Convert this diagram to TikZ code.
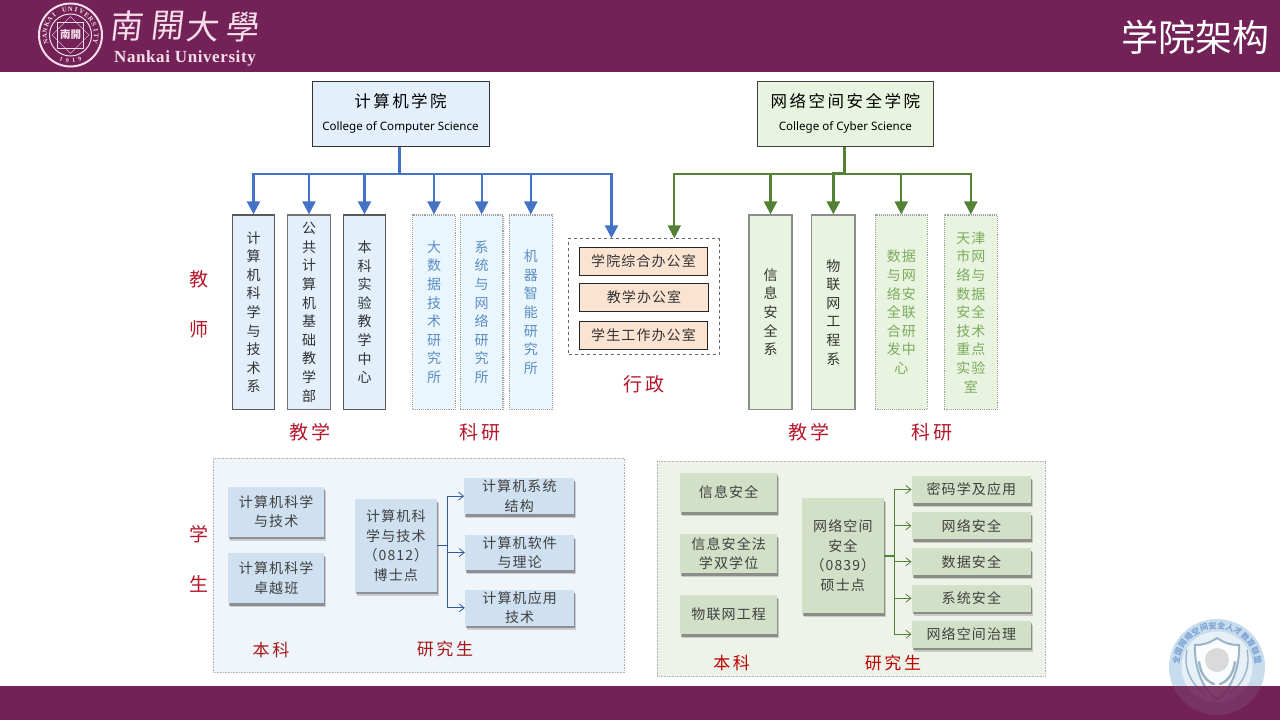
\documentclass[tikz,border=0pt]{standalone}
\usepackage{fontspec}
\setmainfont[LetterSpace=8]{Noto Sans CJK SC}
\newfontfamily\wide[LetterSpace=15]{Noto Sans CJK SC}
\newfontfamily\plaincjk{Noto Sans CJK SC}
\newfontfamily\latinsub{Noto Sans}
\newfontfamily\latinlogo[LetterSpace=3.5]{Liberation Serif}
\newfontfamily\latinseal{Liberation Serif}
\usetikzlibrary{arrows.meta,shadows}
\definecolor{band}{HTML}{722257}
\definecolor{logopink}{HTML}{F6DDE9}
\definecolor{cblue}{HTML}{4472C4}
\definecolor{cgreen}{HTML}{548235}
\definecolor{lblue}{HTML}{E3F0FC}
\definecolor{lblue2}{HTML}{EAF6FD}
\definecolor{lgreen}{HTML}{E8F4DF}
\definecolor{peach}{HTML}{FBE3D2}
\definecolor{redlab}{HTML}{B5162B}
\definecolor{emblem}{HTML}{9CC2DE}
\definecolor{softblue}{HTML}{CFE0F0}
\definecolor{softgreen}{HTML}{D3E0C8}
\definecolor{panelblue}{HTML}{F0F5FC}
\definecolor{panelgreen}{HTML}{EEF3EA}
\definecolor{restext}{HTML}{5B8EC4}
\definecolor{resgreen}{HTML}{7CAB5E}
\tikzset{
  headbox/.style={draw=#1,line width=1pt,inner sep=0pt,align=center},
  teachbox/.style={draw=#1,line width=1.3pt,inner sep=0pt,align=center,
    font=\fontsize{14}{18.6}\selectfont,text=black!80},
  resbox/.style={draw=gray!75,densely dotted,line width=1.1pt,inner sep=0pt,align=center,
    font=\fontsize{14}{18.6}\selectfont},
  officebox/.style={draw=black!85,fill=peach,line width=1pt,inner sep=0pt,align=center,
    font=\fontsize{14}{17}\selectfont,text=black!80},
  panelbox/.style={draw=gray!60,densely dotted,line width=.6pt,inner sep=0pt},
  softbox/.style={fill=#1,inner sep=0pt,align=center,text=black!75,
    font=\fontsize{14}{19.5}\selectfont,
    drop shadow={shadow xshift=2pt,shadow yshift=-4pt,opacity=.16,fill=black},
    drop shadow={shadow xshift=1pt,shadow yshift=-2.5pt,opacity=.3,fill=black}},
  redtitle/.style={inner sep=0pt,text=redlab,font=\wide\fontsize{19}{19}\selectfont},
  redsub/.style={inner sep=0pt,text=#1,font=\wide\fontsize{17}{17}\selectfont},
  bluearrow/.style={draw=cblue,line width=2.2pt,-{Triangle[length=13pt,width=13pt]}},
  greenarrow/.style={draw=cgreen,line width=2.2pt,-{Triangle[length=13pt,width=13pt]}},
  thinarrow/.style={line width=.8pt,-{Straight Barb[length=5pt,width=8pt]}},
}
\newcommand{\mybox}[7]{%
  \pgfmathsetmacro\bxc{(#3+#5)/2}\pgfmathsetmacro\byc{(#4+#6)/2}%
  \pgfmathsetmacro\bxw{#5-#3}\pgfmathsetmacro\byh{#6-#4}%
  \node[#2,minimum width=\bxw pt,minimum height=\byh pt] (#1) at (\bxc,\byc) {#7};}
\newcommand{\heading}[2]{{\wide\fontsize{16.5}{22}\selectfont #1}\\[11pt]{\latinsub\fontsize{11.6}{14}\selectfont #2}}
\begin{document}
\begin{tikzpicture}[x=1pt,y=-1pt]
\useasboundingbox (0,0) rectangle (1280,720);
\fill[white] (0,0) rectangle (1280,720);
\fill[band] (0,0) rectangle (1280,72);
\fill[band] (0,686) rectangle (1280,720);
% seal
\draw[logopink,line width=2pt] (70.5,35) circle[radius=31.5pt];
\draw[logopink,line width=1pt] (70.5,35) circle[radius=21pt];
\draw[logopink,line width=.5pt,shift={(70.5,35)}] (-13,-13) rectangle (13,13);
\draw[logopink,line width=.5pt,shift={(70.5,35)},rotate=45] (-13,-13) rectangle (13,13);
\foreach \c [count=\i, evaluate=\i as \a using 196-13.2*(\i-1)] in {N,A,N,K,A,I,{},U,N,I,V,E,R,S,I,T,Y}
  \node[inner sep=0pt,text=logopink,rotate=\a-90,font=\latinseal\bfseries\fontsize{6.8}{7}\selectfont] (sealc\i) at ({70.5+25.8*cos(\a)},{35-25.8*sin(\a)}) {\c};
\foreach \c [count=\i, evaluate=\i as \a using 249+14*(\i-1)] in {1,9,1,9}
  \node[inner sep=0pt,text=logopink,rotate=\a+90,font=\latinseal\bfseries\fontsize{6}{6}\selectfont] (sealy\i) at ({70.5+25.8*cos(\a)},{35-25.8*sin(\a)}) {\c};
\node[inner sep=0pt,text=logopink,font=\plaincjk\bfseries\fontsize{10.5}{10.5}\selectfont] (sealname) at (70.5,35) {南開};
% logotype
\foreach \c/\x/\y/\n in {南/128/26/la,開/168/26/lb,大/204/27/lc,學/243/27/ld}
  \node[inner sep=0pt,text=logopink,font=\plaincjk\fontsize{33}{33}\selectfont,xslant=.12,transform shape] (\n) at (\x,\y) {\c};
\node[inner sep=0pt,text=logopink,font=\latinlogo\bfseries\fontsize{17}{17}\selectfont] (lat) at (185,58) {Nankai University};
\node[inner sep=0pt,anchor=east,text=white,font=\plaincjk\fontsize{37}{37}\selectfont] (pagetitle) at (1270,37) {学院架构};
% side labels
\node[redtitle] (t1) at (199,279) {教};
\node[redtitle] (t2) at (199,329) {师};
\node[redtitle] (s1) at (199,534) {学};
\node[redtitle] (s2) at (199,584) {生};
% heads
\mybox{cs}{headbox=black!80,fill=lblue}{312}{81}{489}{146}{\heading{计算机学院}{College of Computer Science}}
\mybox{cy}{headbox=black!75,fill=lgreen}{757}{81}{933.7}{146}{\heading{网络空间安全学院}{College of Cyber Science}}
% blue columns
\mybox{b1}{teachbox=black!65,fill=lblue}{232.3}{215}{274.7}{409.3}{计\\算\\机\\科\\学\\与\\技\\术\\系}
\mybox{b2}{teachbox=black!55,fill=lblue}{287.7}{215}{330.3}{409.3}{公\\共\\计\\算\\机\\基\\础\\教\\学\\部}
\mybox{b3}{teachbox=black!65,fill=lblue}{343.3}{215}{385.7}{409.3}{本\\科\\实\\验\\教\\学\\中\\心}
\mybox{b4}{resbox,fill=lblue2,text=restext}{412.7}{215}{455.3}{409.3}{大\\数\\据\\技\\术\\研\\究\\所}
\mybox{b5}{resbox,fill=lblue2,text=restext}{460.3}{215}{503}{409.3}{系\\统\\与\\网\\络\\研\\究\\所}
\mybox{b6}{resbox,fill=lblue2,text=restext}{509.3}{215}{552.3}{409.3}{机\\器\\智\\能\\研\\究\\所}
% green columns
\mybox{g1}{teachbox=gray!90,fill=lgreen}{749}{215}{792}{409.3}{信\\息\\安\\全\\系}
\mybox{g2}{teachbox=gray!90,fill=lgreen}{811.7}{215}{855}{409.3}{物\\联\\网\\工\\程\\系}
\mybox{g3}{resbox,fill=lgreen,text=resgreen}{875.3}{215}{927.3}{409.3}{数据\\与网\\络安\\全联\\合研\\发中\\心}
\mybox{g4}{resbox,fill=lgreen,text=resgreen}{944.3}{215}{997.3}{409.3}{天津\\市网\\络与\\数据\\安全\\技术\\重点\\实验\\室}
% admin
\mybox{admin}{draw=black!60,dashed,line width=.5pt}{568.7}{238.3}{719}{354.3}{}
\mybox{o1}{officebox}{579.3}{247.3}{707.7}{275.3}{学院综合办公室}
\mybox{o2}{officebox}{579.3}{283.3}{708.7}{311.7}{教学办公室}
\mybox{o3}{officebox}{579.3}{321.3}{707.7}{349.3}{学生工作办公室}
% group labels
\node[redtitle] (lt1) at (310,432.7) {教学};
\node[redtitle] (lr1) at (480,432.7) {科研};
\node[redtitle] (la1) at (644,384) {行政};
\node[redtitle] (lt2) at (809,432.7) {教学};
\node[redtitle] (lr2) at (932,432.7) {科研};
% blue connectors
\coordinate (cbus) at (399.5,173.7);
\coordinate (adminB) at (611.5,238.3);
\draw[draw=cblue,line width=3pt] (cbus |- cs.south) -- (cbus);
\foreach \n in {b1,b2,b3,b4,b5,b6} \draw[bluearrow] (cbus) -| (\n.north);
\draw[bluearrow] (cbus) -| (adminB);
% green connectors
\coordinate (gbus) at (844.3,173.7);
\coordinate (adminG) at (674.3,238.3);
\draw[draw=cgreen,line width=3pt] (gbus |- cy.south) -- (gbus);
\foreach \n in {g1,g3,g4} \draw[greenarrow] (gbus) -| (\n.north);
\draw[greenarrow,line width=3pt] (gbus) -| (g2.north);
\draw[greenarrow] (gbus) -| (adminG);
% left panel
\mybox{pl}{panelbox,fill=panelblue}{213.3}{458.3}{624.3}{672.3}{}
\mybox{a1}{softbox=softblue}{228.3}{486.7}{324}{536.7}{计算机科学\\与技术}
\mybox{a2}{softbox=softblue}{228.3}{553.3}{324}{603.3}{计算机科学\\卓越班}
\mybox{a3}{softbox=softblue}{355}{499.3}{436.7}{591.7}{计算机科\\学与技术\\（0812）\\博士点}
\mybox{a4}{softbox=softblue}{464.3}{478.3}{574.3}{514}{计算机系统\\结构}
\mybox{a5}{softbox=softblue}{465}{535}{574.3}{570}{计算机软件\\与理论}
\mybox{a6}{softbox=softblue}{465}{590}{574.3}{625.7}{计算机应用\\技术}
\coordinate (ajoin) at (447.3,545.5);
\draw[draw=cblue!80!black,line width=.8pt] (a3.east) -- (ajoin);
\foreach \n in {a4,a5,a6} \draw[thinarrow,draw=cblue!80!black] (ajoin) |- (\n.west);
\node[redsub=red!60!black!90] (pl1) at (271,650) {本科};
\node[redsub=red!60!black!90] (pl2) at (445,649) {研究生};
% right panel
\mybox{pr}{panelbox,fill=panelgreen}{657.3}{461}{1045.3}{676}{}
\mybox{c1}{softbox=softgreen}{680}{472.7}{777.3}{512.3}{信息安全}
\mybox{c2}{softbox=softgreen}{680}{534}{777.3}{573.3}{信息安全法\\学双学位}
\mybox{c3}{softbox=softgreen}{680}{595}{777.3}{634.3}{物联网工程}
\mybox{c4}{softbox=softgreen}{801.7}{498.3}{884}{613.3}{网络空间\\安全\\（0839）\\硕士点}
\mybox{d1}{softbox=softgreen}{911.7}{476}{1031}{503}{密码学及应用}
\mybox{d2}{softbox=softgreen}{911.7}{512.3}{1031}{539.3}{网络安全}
\mybox{d3}{softbox=softgreen}{911.7}{548.3}{1031}{575.3}{数据安全}
\mybox{d4}{softbox=softgreen}{911.7}{584.7}{1031}{611.7}{系统安全}
\mybox{d5}{softbox=softgreen}{911.7}{620.7}{1031}{647.7}{网络空间治理}
\coordinate (cjoin) at (894,555.8);
\draw[draw=cgreen,line width=1.6pt] (c4.east) -- (cjoin);
\foreach \n in {d1,d2,d3,d4,d5} \draw[thinarrow,draw=cgreen] (cjoin) |- (\n.west);
\node[redsub=red!75!black] (pr1) at (731.7,663) {本科};
\node[redsub=red!75!black] (pr2) at (893,663) {研究生};
% emblem
\begin{scope}[opacity=.8]
\fill[emblem!70!white] (1217,667) circle[radius=48pt];
\fill[white!85!emblem] (1217,667) circle[radius=35.5pt];
\foreach \c [count=\i, evaluate=\i as \a using 170-12.3*(\i-1)] in {全,国,网,络,空,间,安,全,人,才,教,育,联,盟}
  \node[inner sep=0pt,text=cblue!55!emblem,rotate=\a-90,font=\plaincjk\bfseries\fontsize{8}{8}\selectfont] (emb\i) at ({1217+41.5*cos(\a)},{667-41.5*sin(\a)}) {\c};
\draw[emblem!85!black,line width=2pt,fill=white] (1217,638) .. controls (1208,644) and (1202,645) .. (1195,645) .. controls (1194,668) and (1203,690) .. (1217,699) .. controls (1231,690) and (1240,668) .. (1239,645) .. controls (1232,645) and (1226,644) .. (1217,638) -- cycle;
\fill[gray!35] (1217,660) circle[radius=12pt];
\draw[emblem!85!black,line width=2.4pt,line cap=round] (1199,662) .. controls (1201,676) and (1208,682) .. (1214,684);
\draw[emblem!85!black,line width=2.4pt,line cap=round] (1235,662) .. controls (1233,676) and (1226,682) .. (1220,684);
\draw[emblem!85!black,line width=1.4pt] (1187,650) .. controls (1183,668) and (1191,684) .. (1205,694);
\draw[emblem!85!black,line width=1.4pt] (1247,650) .. controls (1251,668) and (1243,684) .. (1229,694);
\end{scope}
\fill[band,opacity=.88] (1165,686) rectangle (1270,720);
\end{tikzpicture}
\end{document}
